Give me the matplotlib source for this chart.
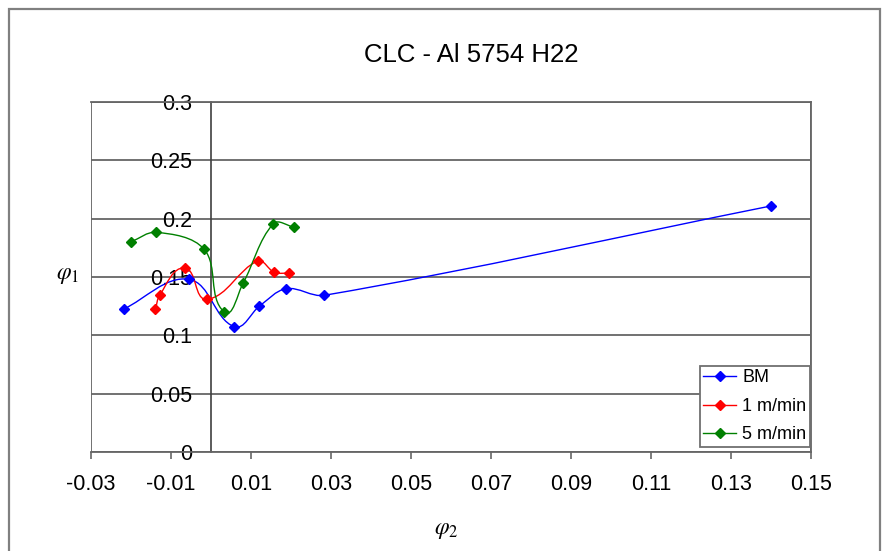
import numpy as np
import matplotlib
matplotlib.use("Agg")
import matplotlib.pyplot as plt
from matplotlib.path import Path
from matplotlib.patches import PathPatch, Rectangle
from matplotlib.lines import Line2D
from matplotlib.ticker import FixedLocator, FuncFormatter

plt.rcParams["font.family"] = ["Liberation Sans", "DejaVu Sans"]
plt.rcParams["mathtext.fontset"] = "stix"

# phi2 / phi1 strain pairs for each condition
bm_x = [-0.0218, -0.0055, 0.0058, 0.0121, 0.0188, 0.0283, 0.1400]
bm_y = [0.1226, 0.1480, 0.1074, 0.1250, 0.1400, 0.1343, 0.2109]

v1_x = [-0.0139, -0.0128, -0.0066, -0.0011, 0.0117, 0.0158, 0.0194]
v1_y = [0.1223, 0.1346, 0.1577, 0.1309, 0.1637, 0.1540, 0.1532]

v5_x = [-0.0201, -0.0137, -0.0017, 0.0033, 0.0080, 0.0156, 0.0208]
v5_y = [0.1800, 0.1883, 0.1737, 0.1200, 0.1446, 0.1957, 0.1926]

series_names = ["BM", "1 m/min", "5 m/min"]
series_colors = ["#0000FF", "#FF0000", "#008000"]

x_ticks = [-0.03, -0.01, 0.01, 0.03, 0.05, 0.07, 0.09, 0.11, 0.13, 0.15]
y_ticks = [0, 0.05, 0.1, 0.15, 0.2, 0.25, 0.3]

title = "CLC - Al 5754 H22"


def smooth_path(ax, x, y):
    """Smoothed Bezier path through the points, built in screen space so
    that unevenly spaced points do not overshoot."""
    pts = ax.transData.transform(np.column_stack([x, y]).astype(float))
    n = len(pts)

    def unit(v):
        d = np.hypot(*v)
        return v / d if d > 0 else v

    verts = [pts[0]]
    codes = [Path.MOVETO]
    for i in range(n - 1):
        p0 = pts[i - 1] if i > 0 else pts[i]
        p1 = pts[i]
        p2 = pts[i + 1]
        p3 = pts[i + 2] if i + 2 < n else pts[i + 1]
        seg = np.hypot(*(p2 - p1)) / 3.0
        c1 = p1 + unit(p2 - p0) * seg
        c2 = p2 - unit(p3 - p1) * seg
        verts += [c1, c2, p2]
        codes += [Path.CURVE4] * 3
    data_verts = ax.transData.inverted().transform(np.array(verts))
    return Path(data_verts, codes)


fig = plt.figure(figsize=(8.82, 5.51), dpi=100)
fig.patch.set_facecolor("white")

# outer chart border
fig.patches.append(Rectangle((9 / 882, -0.05), 871 / 882, 1.05 - 9 / 551,
                             transform=fig.transFigure, fill=False,
                             edgecolor="#808080", linewidth=1.6))

ax = fig.add_axes([91 / 882, 99 / 551, 720 / 882, 350 / 551])
ax.set_xlim(-0.03, 0.15)
ax.set_ylim(0, 0.3)

grid_col = "#666666"
ax.set_axisbelow(True)
ax.yaxis.grid(True, color=grid_col, linewidth=1.3)

for s in ["top", "right", "bottom"]:
    ax.spines[s].set_color(grid_col)
    ax.spines[s].set_linewidth(1.3)
ax.spines["left"].set_position(("data", 0))
ax.spines["left"].set_color("#404040")
ax.spines["left"].set_linewidth(1.2)
ax.add_patch(Rectangle((0, 0), 1, 1, transform=ax.transAxes, fill=False,
                       edgecolor=grid_col, linewidth=1.3, zorder=0.5))

ax.xaxis.set_major_locator(FixedLocator(x_ticks))
ax.yaxis.set_major_locator(FixedLocator(y_ticks))
fmt = FuncFormatter(lambda v, pos: "%g" % round(v, 4))
ax.xaxis.set_major_formatter(fmt)
ax.yaxis.set_major_formatter(fmt)
ax.tick_params(axis="x", direction="out", length=5, width=1.2, color=grid_col,
               labelsize=15.5, pad=11)
ax.tick_params(axis="y", length=0, labelsize=15.5, pad=13.5)

handles = []
for xs, ys, col, name in zip([bm_x, v1_x, v5_x], [bm_y, v1_y, v5_y],
                             series_colors, series_names):
    ax.add_patch(PathPatch(smooth_path(ax, xs, ys), fill=False, edgecolor=col,
                           linewidth=1.0, zorder=3))
    ax.plot(xs, ys, linestyle="none", marker="D", markersize=4.8,
            color=col, zorder=4)
    handles.append(Line2D([], [], color=col, linewidth=1.0, marker="D",
                          markersize=4.8, label=name))

leg = ax.legend(handles=handles, loc="lower right",
                bbox_to_anchor=(0.9986, 0.0143), fontsize=13,
                frameon=True, fancybox=False, framealpha=1,
                edgecolor="#707070", handlelength=1.8, handletextpad=0.35,
                labelspacing=0.64, borderpad=0.2, borderaxespad=0)
leg.get_frame().set_linewidth(1.3)

ax.set_xlabel(r"$\varphi_2$", fontsize=17)
ax.xaxis.set_label_coords(0.494, -0.223)
ax.xaxis.label.set_va("center")
ax.set_ylabel(r"$\varphi_1$", fontsize=17, rotation=0)
ax.yaxis.set_label_coords(-0.033, 0.506)
ax.yaxis.label.set_va("center")
ax.yaxis.label.set_ha("center")

fig.text(471 / 882, 1 - 55 / 551, title, ha="center", va="center",
         fontsize=18.5)

fig.savefig("out.png", dpi=100)
